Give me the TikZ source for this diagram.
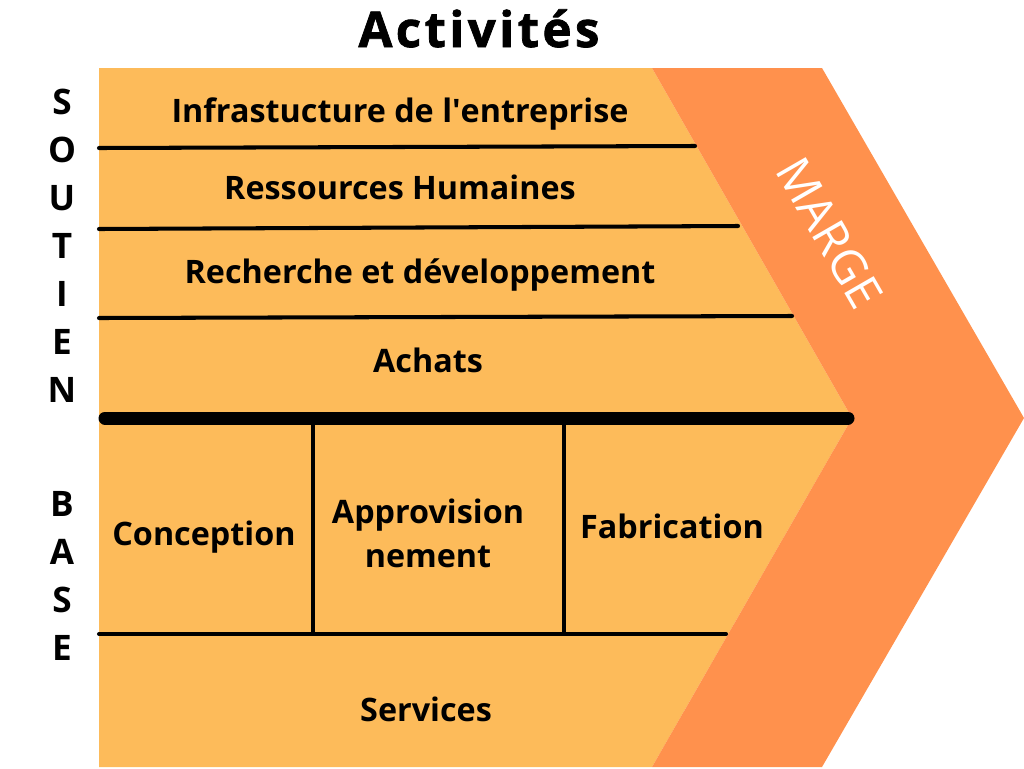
\documentclass[tikz,border=0pt]{standalone}
\usepackage{fontspec}
\setmainfont{Open Sans}
\newfontfamily\titrefont[LetterSpace=7, BoldFeatures={FakeBold=1.5}]{Open Sans}
\newfontfamily\brutfont{Open Sans}
\usetikzlibrary{positioning}
\definecolor{jaune}{HTML}{FDBB5A}
\definecolor{margeorange}{HTML}{FF914D}

\begin{document}
\begin{tikzpicture}[
    x=0.02cm, y=-0.02cm,
    etiquette/.style={font=\bfseries\fontsize{18.4}{25}\selectfont, align=center, anchor=base, inner sep=0pt},
    lettre/.style={font=\bfseries\fontsize{20}{22}\selectfont, inner sep=0pt},
    trait/.style={line width=2.3pt, line cap=round},
    separation/.style={line width=7.4pt, line cap=round}
  ]
  \useasboundingbox (0,0) rectangle (1024,768);

  % Fond
  \coordinate (hg) at (99,68);
  \coordinate (hm) at (652,68);
  \coordinate (pi) at (852,418);
  \coordinate (bm) at (652,767);
  \coordinate (bg) at (99,767);
  \coordinate (hd) at (822,68);
  \coordinate (pe) at (1024,418);
  \coordinate (bd) at (822,767);
  \fill[jaune] (hg) -- (hm) -- (pi) -- (bm) -- (bg) -- cycle;
  \fill[margeorange] (hm) -- (hd) -- (pe) -- (bd) -- (bm) -- (pi) -- cycle;

  % Traits
  \coordinate (a1) at (99,148);  \coordinate (b1) at (695,146);
  \coordinate (a2) at (99,229);  \coordinate (b2) at (738,226);
  \coordinate (a3) at (99,318);  \coordinate (b3) at (792,316);
  \coordinate (a4) at (105,418); \coordinate (b4) at (848,418);
  \coordinate (a5) at (99,634);  \coordinate (b5) at (726,634);
  \coordinate (v1) at (313,418); \coordinate (w1) at (313,634);
  \coordinate (v2) at (564,418); \coordinate (w2) at (564,634);
  \draw[trait] (a1) -- (b1);
  \draw[trait] (a2) -- (b2);
  \draw[trait] (a3) -- (b3);
  \draw[trait] (a5) -- (b5);
  \draw[line width=2.3pt] (v1) -- (w1);
  \draw[line width=2.3pt] (v2) -- (w2);
  \draw[separation] (a4) -- (b4);

  % Titre
  \node[anchor=base, inner sep=0pt, font=\titrefont\bfseries\fontsize{28}{30}\selectfont] (titre) at (479,47) {Activités};

  % Activites de soutien
  \node[etiquette] (infra) at (400,122) {Infrastucture de l{\brutfont'}entreprise};
  \node[etiquette] (rh) at (400,199) {Ressources Humaines};
  \node[etiquette] (rd) at (420,283) {Recherche et développement};
  \node[etiquette] (achats) at (428,372) {Achats};

  % Activites de base
  \node[etiquette] (conception) at (204,545) {Conception};
  \node[etiquette] (appro) at (428,567) {Approvision\\nement};
  \node[etiquette] (fabrication) at (672,538) {Fabrication};
  \node[etiquette] (services) at (426,721) {Services};

  % Marge
  \node[rotate=-60, text=white, inner sep=0pt, font=\fontsize{27}{30}\selectfont] (marge) at (830,233) {MARGE};

  % Lettres
  \foreach \l [count=\i] in {S,O,U,T,I,E,N}
    \node[lettre] (s\i) at (62,{102+48*(\i-1)}) {\l};
  \foreach \l [count=\i] in {B,A,S,E}
    \node[lettre] (b\i) at (62,{504+48*(\i-1)}) {\l};
\end{tikzpicture}
\end{document}
